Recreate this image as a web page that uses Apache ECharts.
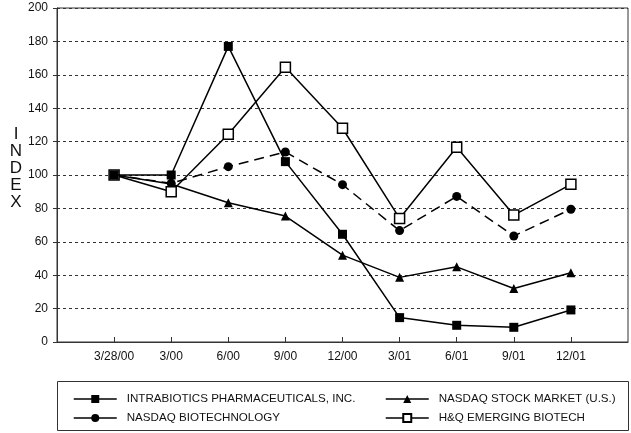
<!DOCTYPE html>
<html>
<head>
<meta charset="utf-8">
<script src="https://cdn.jsdelivr.net/npm/echarts@6/dist/echarts.min.js"></script>
<style>html,body{margin:0;padding:0;background:#fff}#c{width:631px;height:433px}</style>
</head>
<body>
<div id="c"></div>
<script>
var categories = ['3/28/00','3/00','6/00','9/00','12/00','3/01','6/01','9/01','12/01'];
var intrabiotics = [100, 100, 177, 108, 64.5, 14.6, 10, 8.8, 19.2];
var nasdaqStock = [100, 94.6, 83.4, 75.4, 52, 38.7, 45, 32, 41.5];
var nasdaqBio = [100, 95, 105, 113.8, 94.2, 66.7, 87.2, 63.5, 79.5];
var hqEmerging = [100, 90, 124.4, 164.5, 128, 74, 116.6, 76, 94.4];
var yTicks = [0, 20, 40, 60, 80, 100, 120, 140, 160, 180, 200];

var names = ['INTRABIOTICS PHARMACEUTICALS, INC.', 'NASDAQ STOCK MARKET (U.S.)', 'NASDAQ BIOTECHNOLOGY', 'H&Q EMERGING BIOTECH'];
var FONT = '"Liberation Sans", Arial, Helvetica, sans-serif';

// pad axis with empty slots at both ends
var axisCats = [''].concat(categories, ['']);
function pad(a){ return [null].concat(a, [null]); }

function mk(name, data, symbol, size, fill, dashed, z){
  return {
    name: name, type: 'line', data: pad(data), symbol: symbol, symbolSize: size,
    showAllSymbol: true, connectNulls: false,
    lineStyle: {color: '#000', width: 1.5, type: dashed ? [10, 6] : 'solid'},
    itemStyle: {color: fill, borderColor: '#000', borderWidth: fill === '#fff' ? 1.5 : 0},
    emphasis: {disabled: true}, animation: false, z: z
  };
}

function legendCfg(items, left){
  return {data: items, orient: 'vertical', left: left, top: 393, padding: 0,
    itemWidth: 43, itemHeight: 10, itemGap: 7,
    textStyle: {fontSize: 11.6, color: '#111', fontFamily: FONT, padding: [0, 0, 0, 5]},
    lineStyle: {type: 'solid', width: 1.5}, selectedMode: false};
}

var chart = echarts.init(document.getElementById('c'), null, {renderer: 'canvas'});
chart.setOption({
  animation: false,
  textStyle: {fontFamily: FONT},
  title: {
    text: 'I\nN\nD\nE\nX', left: 11, top: 121, textAlign: 'center',
    textStyle: {fontFamily: FONT, fontSize: 17, fontWeight: 'normal', lineHeight: 17, color: '#111'}
  },
  grid: {left: 57, top: 8, right: 2, bottom: 91, show: true, borderColor: '#333', borderWidth: 1, backgroundColor: 'transparent'},
  xAxis: {
    type: 'category', data: axisCats, boundaryGap: false,
    axisLine: {lineStyle: {color: '#333', width: 1}},
    axisTick: {inside: true, length: 5, lineStyle: {color: '#333'},
      interval: function(i){ return i > 0 && i < axisCats.length - 1; }},
    axisLabel: {color: '#111', fontSize: 12, margin: 9, interval: 0, fontFamily: FONT},
    splitLine: {show: false}
  },
  yAxis: {
    type: 'value', min: yTicks[0], max: yTicks[yTicks.length - 1], interval: 20,
    axisLine: {show: true, lineStyle: {color: '#333', width: 1}},
    axisTick: {show: true, length: 4, lineStyle: {color: '#333'}},
    axisLabel: {color: '#111', fontSize: 12, margin: 9, fontFamily: FONT},
    splitLine: {show: true, lineStyle: {color: '#333', width: 1, type: [3, 3]}}
  },
  legend: [legendCfg([names[0], names[2]], 73), legendCfg([names[1], names[3]], 385)],
  graphic: [{
    type: 'rect', shape: {x: 57.5, y: 381.5, width: 571, height: 49},
    style: {fill: 'none', stroke: '#333', lineWidth: 1}, silent: true
  }],
  series: [
    mk(names[0], intrabiotics, 'rect', 9, '#000', false, 6),
    mk(names[1], nasdaqStock, 'triangle', 9, '#000', false, 4),
    mk(names[2], nasdaqBio, 'circle', 9, '#000', true, 3),
    mk(names[3], hqEmerging, 'rect', 10, '#fff', false, 5)
  ]
});
</script>
</body>
</html>
